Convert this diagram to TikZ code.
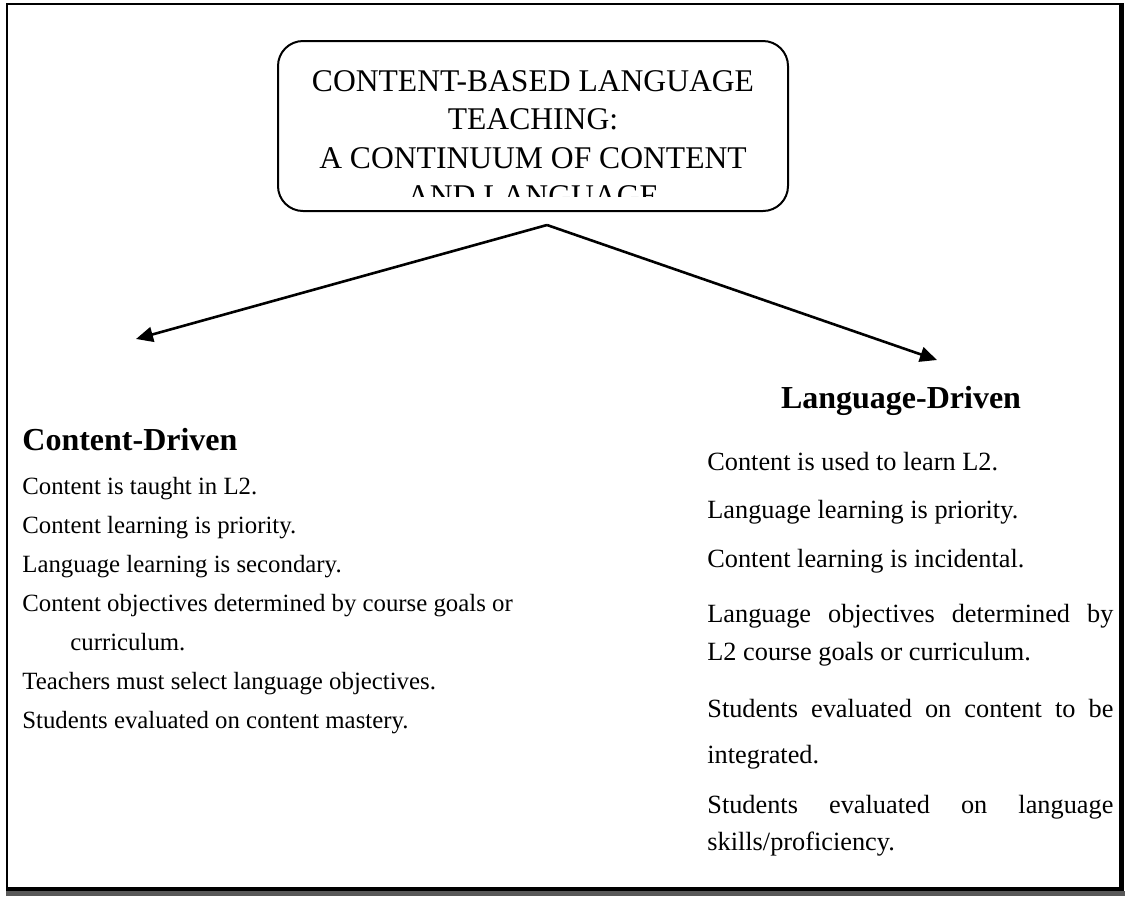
\documentclass[tikz,border=0pt]{standalone}
\usepackage{fontspec}
\setmainfont{Liberation Serif}
\usetikzlibrary{matrix,arrows.meta}
\tikzset{
cbox/.style={rectangle, rounded corners=12.5pt, draw=black, line width=1pt, minimum width=255pt, minimum height=85pt},
cboxtext/.style={align=center, inner sep=0pt, font=\fontsize{15.8}{19.25}\selectfont},
heading/.style={inner sep=0pt, font=\fontsize{16}{19.2}\selectfont\bfseries},
arrow/.style={line width=1.3pt,-{Triangle[length=8.5pt,width=7.5pt]}},
}

\begin{document}
\begin{tikzpicture}[x=0.5pt,y=-0.5pt]
\useasboundingbox (0,0) rectangle (1125,896);
% frame
\draw[line width=1pt] (7,891) -- (7,4) -- (1121,4);
\fill (1119,3) rectangle (1124,891);
\fill (6,887) rectangle (1124,891);
\fill[black!65] (6,891) rectangle (1125,896);

% title box, text cut off at the bottom
\node[cbox] (cblt) at (533,126) {};
\begin{scope}
\clip (cblt.north west) rectangle ([yshift=8pt]cblt.south east);
\node[cboxtext, anchor=north] (cbltext) at (533,70) {CONTENT-BASED LANGUAGE\\TEACHING:\\A CONTINUUM OF CONTENT\\AND LANGUAGE};
\end{scope}

\coordinate (apex) at (547,225);
\coordinate (cdtip) at (136,339);
\coordinate (ldtip) at (937,360);

\node[heading, anchor=base west] (cdhead) at (22,450) {Content-Driven};
\node[heading, anchor=base] (ldhead) at (901,408) {Language-Driven};

\matrix(cdriven)[matrix of nodes, inner sep=0pt, row sep=7.5pt, matrix anchor=north west,
nodes={anchor=base west, inner sep=0pt, text height=9pt, text depth=3pt, font=\fontsize{12.4}{15}\selectfont},
] at (22,476) {
Content is taught in L2.\\
Content learning is priority.\\
Language learning is secondary.\\
Content objectives determined by course goals or\\
\hspace*{24pt}curriculum.\\
Teachers must select language objectives.\\
Students evaluated on content mastery.\\
};

\matrix(ldriven)[matrix of nodes, inner sep=0pt, row sep=0pt, matrix anchor=north west,
nodes={anchor=base west, inner sep=0pt, text height=9.5pt, text depth=3pt, font=\fontsize{13.15}{16}\selectfont},
] at (707,451) {
Content is used to learn L2.\\[11.5pt]
Language learning is priority.\\[12pt]
Content learning is incidental.\\[15pt]
\makebox[203pt][s]{Language objectives determined by}\\[6.5pt]
L2 course goals or curriculum.\\[16pt]
\makebox[203pt][s]{Students evaluated on content to be}\\[10.5pt]
integrated.\\[12.5pt]
\makebox[203pt][s]{Students evaluated on language}\\[6pt]
skills/proficiency.\\
};

\draw [arrow] (apex) -- (cdtip);
\draw [arrow] (apex) -- (ldtip);
\end{tikzpicture}
\end{document}
